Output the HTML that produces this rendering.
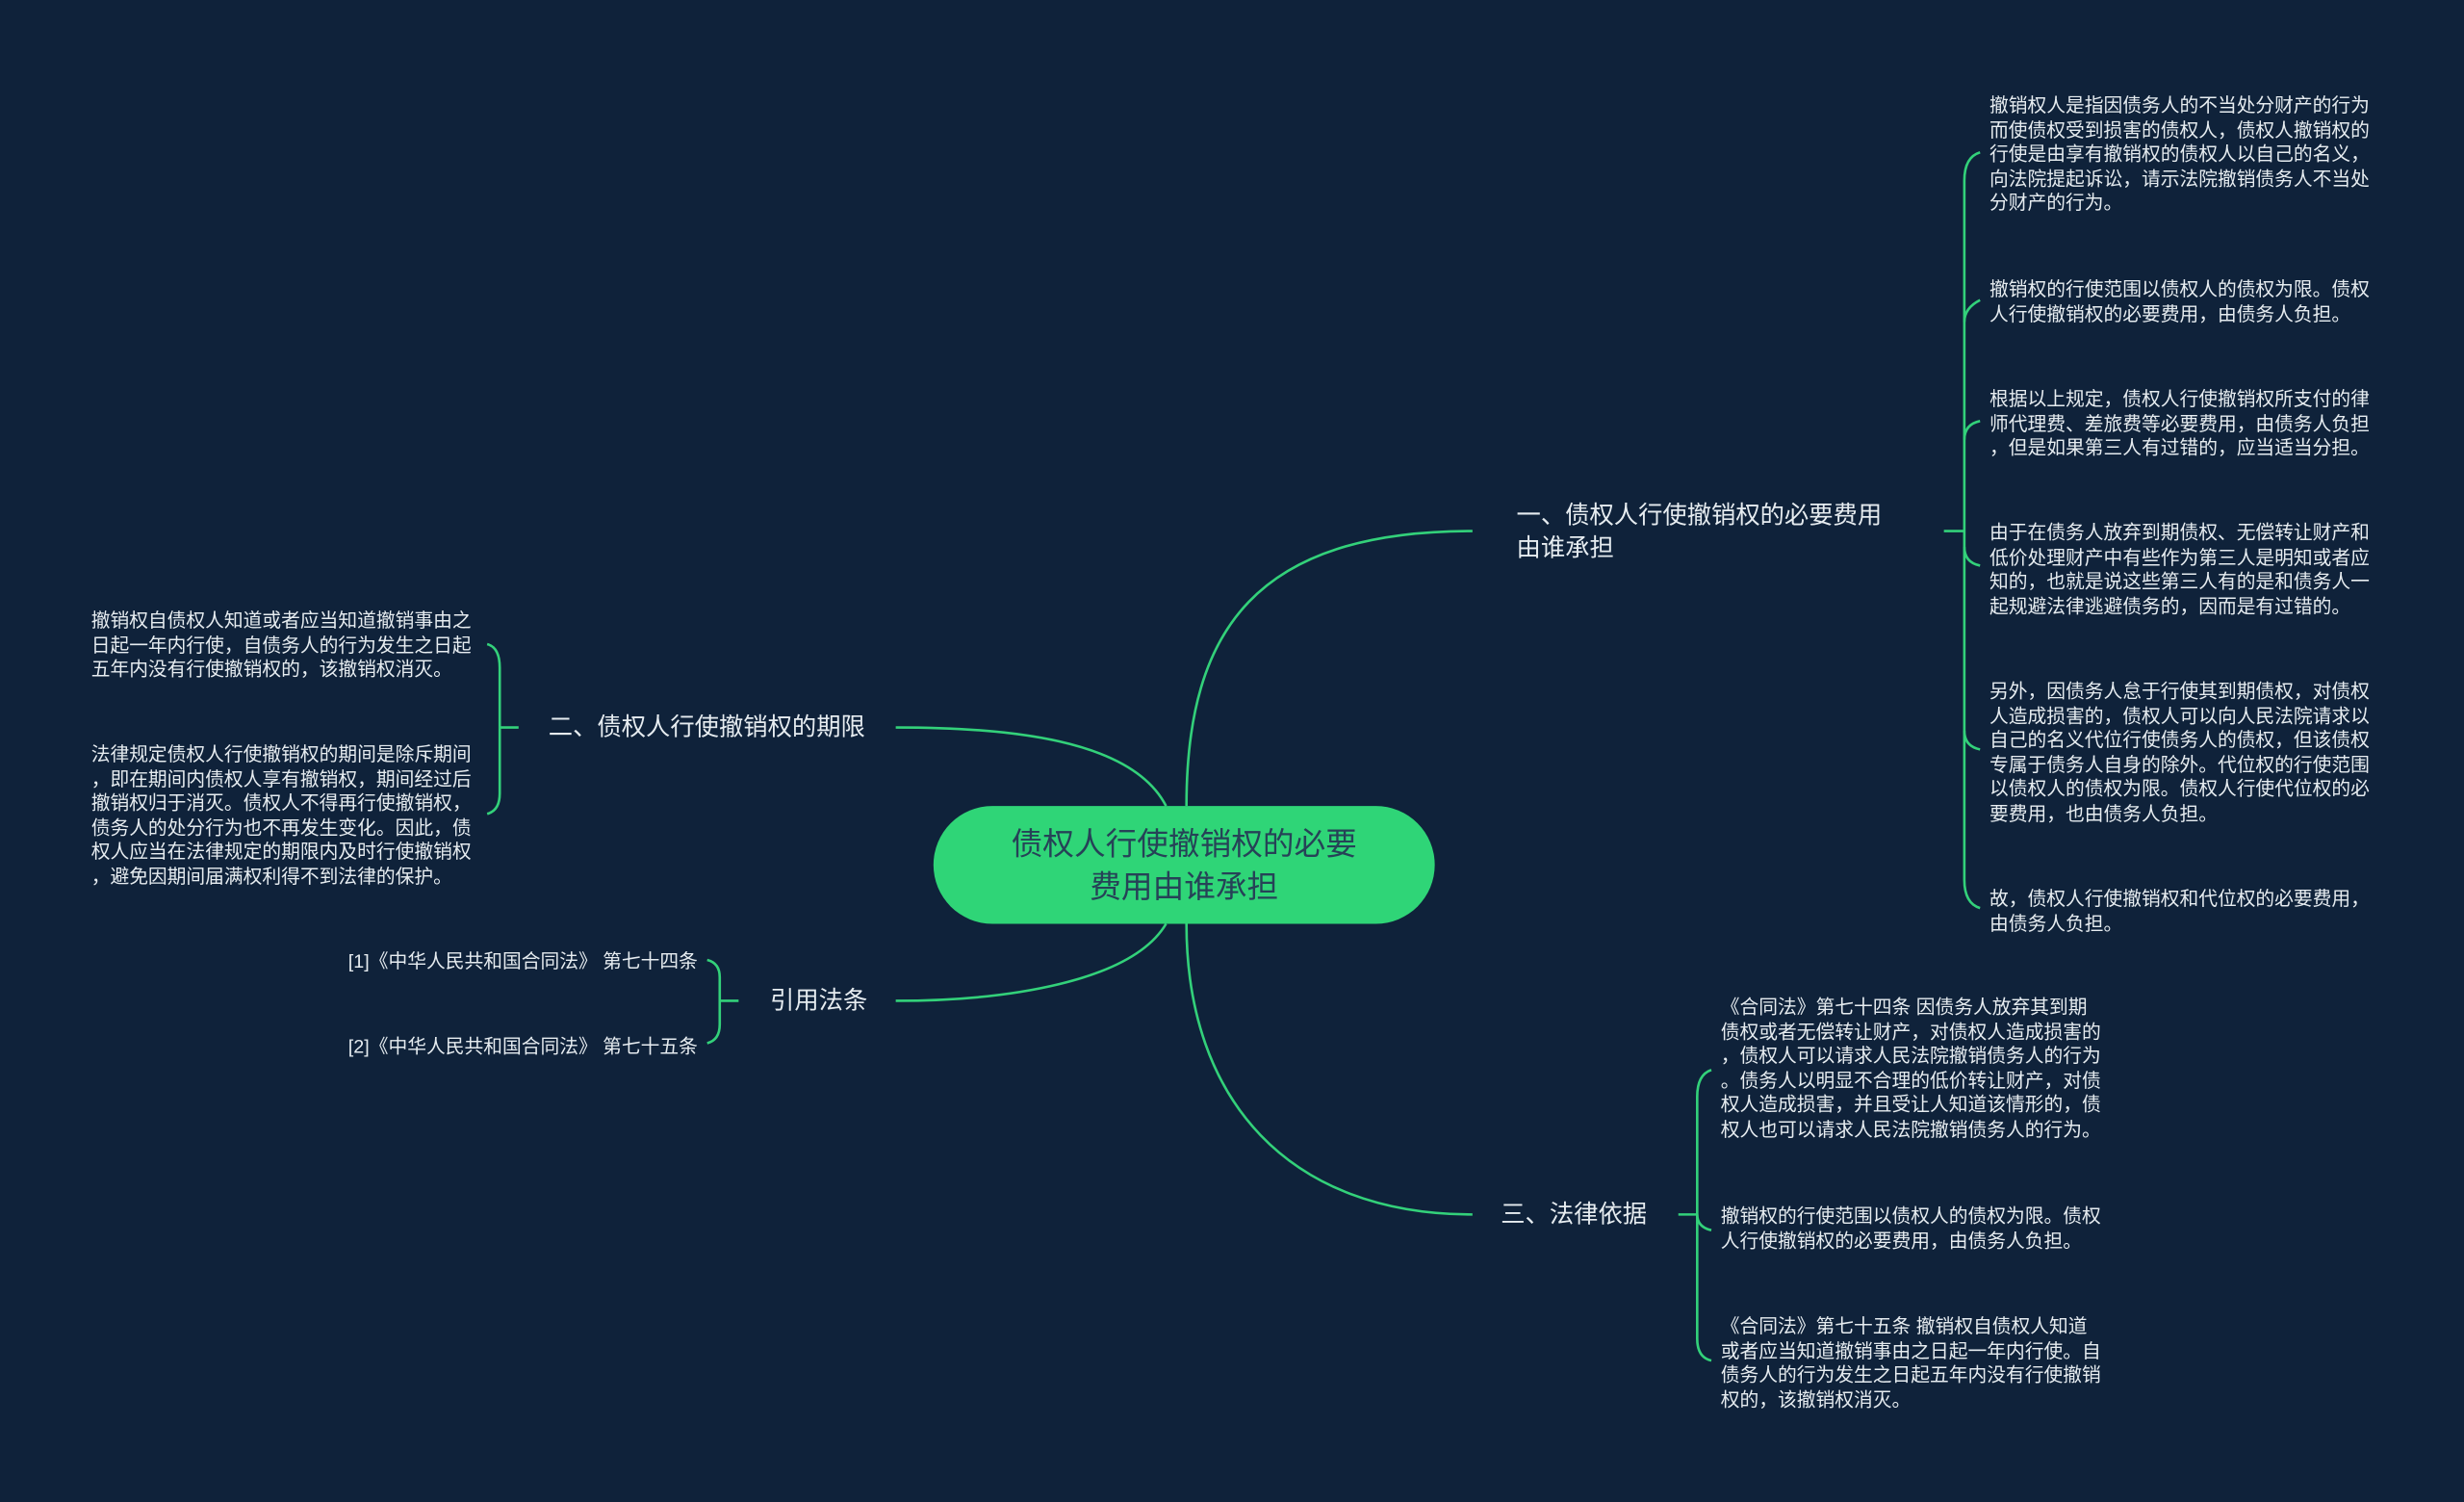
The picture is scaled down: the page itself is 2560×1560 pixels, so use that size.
<!DOCTYPE html>
<html><head><meta charset="utf-8"><style>
html,body{margin:0;padding:0;background:#0f223a;}
body{width:2560px;height:1560px;overflow:hidden;position:relative;}
#c{position:absolute;left:0;top:0;width:1568px;height:956px;transform:scale(1.6327,1.6318);transform-origin:0 0;font-family:"Liberation Sans","Noto Sans CJK SC",sans-serif;}
.t{position:absolute;color:#e6ecf0;white-space:nowrap;}
.leaf{font-size:12.1px;line-height:15.6px;}
.br{font-size:15.5px;line-height:21px;}
.r{text-align:right;}
</style></head><body><div id="c">
<svg width="1568" height="956" style="position:absolute;left:0;top:0" fill="none" stroke="#33d17a" stroke-width="1.6">
<path d="M755 513 C755 400 800 338 937 338"/>
<path d="M742 513 C720 470 640 463 570 463"/>
<path d="M742 588 C720 625 640 637 570 637"/>
<path d="M755 588 C755 700 820 773 937 773"/>
<path d="M1237 338 H1250"/>
<path d="M1260 97 Q1250 100 1250 115 V560 Q1250 575 1260 578"/>
<path d="M1250 205 Q1250 196 1260 191"/>
<path d="M1250 280 Q1250 270 1260 268"/>
<path d="M1250 348 Q1250 358 1260 360"/>
<path d="M1250 465 Q1250 475 1260 477"/>
<path d="M330 463 H318"/>
<path d="M310 410 Q318 412 318 425 V505 Q318 516 310 518"/>
<path d="M470 637 H458"/>
<path d="M450 611 Q458 613 458 622 V652 Q458 662 450 664"/>
<path d="M1068 773 H1080"/>
<path d="M1089 681 Q1080 684 1080 698 V852 Q1080 864 1089 866"/>
<path d="M1080 773 Q1080 781 1089 783"/>
</svg>
<div style="position:absolute;left:594px;top:513px;width:319px;height:75px;border-radius:38px;background:#2fd577;"></div>
<div class="t" style="left:594px;top:525px;width:319px;text-align:center;font-size:20px;line-height:27px;color:#264257;">债权人行使撤销权的必要<br>费用由谁承担</div>

<div class="t br" style="left:965px;top:318px;">一、债权人行使撤销权的必要费用<br>由谁承担</div>
<div class="t br" style="left:349px;top:453px;">二、债权人行使撤销权的期限</div>
<div class="t br" style="left:490px;top:627px;">引用法条</div>
<div class="t br" style="left:955px;top:763px;">三、法律依据</div>

<div class="t leaf" style="left:1266px;top:60px;">撤销权人是指因债务人的不当处分财产的行为<br>而使债权受到损害的债权人，债权人撤销权的<br>行使是由享有撤销权的债权人以自己的名义，<br>向法院提起诉讼，请示法院撤销债务人不当处<br>分财产的行为。</div>
<div class="t leaf" style="left:1266px;top:177px;">撤销权的行使范围以债权人的债权为限。债权<br>人行使撤销权的必要费用，由债务人负担。</div>
<div class="t leaf" style="left:1266px;top:247px;">根据以上规定，债权人行使撤销权所支付的律<br>师代理费、差旅费等必要费用，由债务人负担<br>，但是如果第三人有过错的，应当适当分担。</div>
<div class="t leaf" style="left:1266px;top:332px;">由于在债务人放弃到期债权、无偿转让财产和<br>低价处理财产中有些作为第三人是明知或者应<br>知的，也就是说这些第三人有的是和债务人一<br>起规避法律逃避债务的，因而是有过错的。</div>
<div class="t leaf" style="left:1266px;top:433px;">另外，因债务人怠于行使其到期债权，对债权<br>人造成损害的，债权人可以向人民法院请求以<br>自己的名义代位行使债务人的债权，但该债权<br>专属于债务人自身的除外。代位权的行使范围<br>以债权人的债权为限。债权人行使代位权的必<br>要费用，也由债务人负担。</div>
<div class="t leaf" style="left:1266px;top:565px;">故，债权人行使撤销权和代位权的必要费用，<br>由债务人负担。</div>

<div class="t leaf" style="left:58px;top:388px;">撤销权自债权人知道或者应当知道撤销事由之<br>日起一年内行使，自债务人的行为发生之日起<br>五年内没有行使撤销权的，该撤销权消灭。</div>
<div class="t leaf" style="left:58px;top:473px;">法律规定债权人行使撤销权的期间是除斥期间<br>，即在期间内债权人享有撤销权，期间经过后<br>撤销权归于消灭。债权人不得再行使撤销权，<br>债务人的处分行为也不再发生变化。因此，债<br>权人应当在法律规定的期限内及时行使撤销权<br>，避免因期间届满权利得不到法律的保护。</div>

<div class="t leaf r" style="right:1124px;top:605px;">[1]《中华人民共和国合同法》 第七十四条</div>
<div class="t leaf r" style="right:1124px;top:659px;">[2]《中华人民共和国合同法》 第七十五条</div>

<div class="t leaf" style="left:1095px;top:634px;">《合同法》第七十四条 因债务人放弃其到期<br>债权或者无偿转让财产，对债权人造成损害的<br>，债权人可以请求人民法院撤销债务人的行为<br>。债务人以明显不合理的低价转让财产，对债<br>权人造成损害，并且受让人知道该情形的，债<br>权人也可以请求人民法院撤销债务人的行为。</div>
<div class="t leaf" style="left:1095px;top:767px;">撤销权的行使范围以债权人的债权为限。债权<br>人行使撤销权的必要费用，由债务人负担。</div>
<div class="t leaf" style="left:1095px;top:837px;">《合同法》第七十五条 撤销权自债权人知道<br>或者应当知道撤销事由之日起一年内行使。自<br>债务人的行为发生之日起五年内没有行使撤销<br>权的，该撤销权消灭。</div>
</div></body></html>
